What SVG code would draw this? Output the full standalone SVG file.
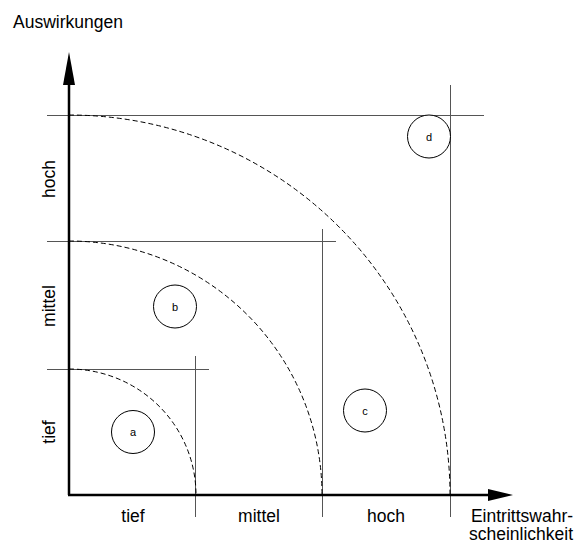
<svg xmlns="http://www.w3.org/2000/svg" width="575" height="543" viewBox="0 0 575 543">
<style>
text{font-family:"Liberation Sans",Arial,sans-serif;fill:#000}
.lbl{font-size:17.5px}
.grid{stroke:#555;stroke-width:1;fill:none}
.arc{stroke:#000;stroke-width:1;fill:none;stroke-dasharray:5,3}
.node circle{fill:#fff;stroke:#000;stroke-width:1}
.node text{font-size:11px;text-anchor:middle}
</style>
<rect width="575" height="543" fill="#fff"/>
<g id="connectors">
<line class="grid" x1="47" y1="115.5" x2="484" y2="115.5"/>
<line class="grid" x1="47" y1="241.5" x2="336" y2="241.5"/>
<line class="grid" x1="47" y1="369.5" x2="209" y2="369.5"/>
<line class="grid" x1="450.5" y1="85" x2="450.5" y2="517"/>
<line class="grid" x1="322.5" y1="229" x2="322.5" y2="517"/>
<line class="grid" x1="195.5" y1="356" x2="195.5" y2="517"/>
<path class="arc" d="M69,369 A127,126 0 0 1 196,495"/>
<path class="arc" d="M69,241 A253,254 0 0 1 322,495"/>
<path class="arc" d="M69,115 A381,380 0 0 1 450,495"/>
<path d="M69,495 V80" stroke="#000" stroke-width="2.5" fill="none"/>
<path d="M63,85 L69,52 L75,85 z" fill="#000"/>
<path d="M68,495 H490" stroke="#000" stroke-width="2.5" fill="none"/>
<path d="M488,489 L513,495 L488,501 z" fill="#000"/>
</g>
<g id="node-a" class="node"><circle cx="133" cy="432" r="21.5"/><text x="133" y="436">a</text></g>
<g id="node-b" class="node"><circle cx="175" cy="306.5" r="21.5"/><text x="175" y="310.5">b</text></g>
<g id="node-c" class="node"><circle cx="365" cy="410.5" r="21.5"/><text x="365" y="414.5">c</text></g>
<g id="node-d" class="node"><circle cx="429" cy="136.5" r="21.5"/><text x="429" y="140.5">d</text></g>
<g id="labels">
<text class="lbl" x="13" y="28">Auswirkungen</text>
<text class="lbl" x="133" y="522" text-anchor="middle">tief</text>
<text class="lbl" x="259" y="522" text-anchor="middle">mittel</text>
<text class="lbl" x="386" y="522" text-anchor="middle">hoch</text>
<text class="lbl" x="522" y="522" text-anchor="middle">Eintrittswahr-</text>
<text class="lbl" x="521" y="540" text-anchor="middle">scheinlichkeit</text>
<text class="lbl" transform="translate(55,179) rotate(-90)" text-anchor="middle">hoch</text>
<text class="lbl" transform="translate(55,306) rotate(-90)" text-anchor="middle">mittel</text>
<text class="lbl" transform="translate(55,432) rotate(-90)" text-anchor="middle">tief</text>
</g>
</svg>
